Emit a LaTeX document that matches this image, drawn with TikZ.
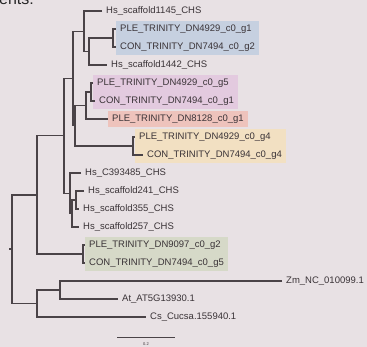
\documentclass[tikz,border=0pt]{standalone}
\usepackage{fontspec}
\setmainfont{Liberation Sans}
\usepackage{xcolor}
\usetikzlibrary{backgrounds,fit}
\definecolor{bgcol}{HTML}{E8E1E4}
\definecolor{linecol}{HTML}{4A4347}
\definecolor{txtcol}{HTML}{3A3337}
\definecolor{hlblue}{HTML}{C6D0E0}
\definecolor{hlpink}{HTML}{E3CADF}
\definecolor{hlred}{HTML}{EEC3BC}
\definecolor{hlyellow}{HTML}{F2E0C2}
\definecolor{hlgreen}{HTML}{D6D9C8}

\begin{document}
\begin{tikzpicture}[x=1pt,y=-1pt]
        \tikzset{branch/.style={draw=linecol, line width=1.1pt},
                 leaf/.style={anchor=west, inner xsep=4pt, inner ysep=3.3pt,
                   text height=7pt, text depth=2pt, text=txtcol,
                   font=\fontsize{9.5}{11}\selectfont},
                 hl/.style={inner sep=0pt, draw=none}}
        \useasboundingbox (0,0) rectangle (367,347);
        \begin{scope}[on background layer]
            \fill[bgcol] (0,0) rectangle (367,347);
        \end{scope}
        \node[anchor=base west, inner sep=0pt, text=black!85,
              font=\fontsize{16}{18}\selectfont] (cut) at (-1,4.5) {ents:};

        % leaves
        \node[leaf] (hs1145) at (102,11) {Hs\_scaffold1145\_CHS};
        \node[leaf] (pleA) at (116,29) {PLE\_TRINITY\_DN4929\_c0\_g1};
        \node[leaf] (conA) at (116,47) {CON\_TRINITY\_DN7494\_c0\_g2};
        \node[leaf] (hs1442) at (107,65) {Hs\_scaffold1442\_CHS};
        \node[leaf] (pleB) at (93,83) {PLE\_TRINITY\_DN4929\_c0\_g5};
        \node[leaf] (conB) at (95,101) {CON\_TRINITY\_DN7494\_c0\_g1};
        \node[leaf] (ple8128) at (108,119) {PLE\_TRINITY\_DN8128\_c0\_g1};
        \node[leaf] (pleC) at (135,137) {PLE\_TRINITY\_DN4929\_c0\_g4};
        \node[leaf] (conC) at (143,155) {CON\_TRINITY\_DN7494\_c0\_g4};
        \node[leaf] (hsC39) at (81,173) {Hs\_C393485\_CHS};
        \node[leaf] (hs241) at (84,191) {Hs\_scaffold241\_CHS};
        \node[leaf] (hs355) at (79,209) {Hs\_scaffold355\_CHS};
        \node[leaf] (hs257) at (79,227) {Hs\_scaffold257\_CHS};
        \node[leaf] (pleD) at (85,245) {PLE\_TRINITY\_DN9097\_c0\_g2};
        \node[leaf] (conD) at (85,263) {CON\_TRINITY\_DN7494\_c0\_g5};
        \node[leaf] (zm) at (282,281) {Zm\_NC\_010099.1};
        \node[leaf] (at) at (118,299) {At\_AT5G13930.1};
        \node[leaf] (cs) at (146,317) {Cs\_Cucsa.155940.1};

        % highlight boxes
        \begin{scope}[on background layer]
            \node[hl, fill=hlblue, fit=(pleA)(conA)] (boxA) {};
            \node[hl, fill=hlpink, fit=(pleB)(conB)] (boxB) {};
            \node[hl, fill=hlred, fit=(ple8128)] (boxR) {};
            \node[hl, fill=hlyellow, fit=(pleC)(conC)] (boxC) {};
            \node[hl, fill=hlgreen, fit=(pleD)(conD)] (boxD) {};
        \end{scope}

        % inner nodes
        \coordinate (nA) at (113,38);
        \coordinate (nB) at (89,51.5);
        \coordinate (nC) at (84,31.25);
        \coordinate (nD) at (91,92);
        \coordinate (nE) at (86,105.5);
        \coordinate (nF) at (133,146);
        \coordinate (nG) at (75,125.75);
        \coordinate (nH) at (73,78.5);
        \coordinate (nI) at (76,200);
        \coordinate (nJ) at (72,213.5);
        \coordinate (nK) at (70,193.25);
        \coordinate (nL) at (64,135.9);
        \coordinate (nM) at (83,254);
        \coordinate (nN) at (37,195);
        \coordinate (nO) at (60,290);
        \coordinate (nP) at (37,303.5);
        \coordinate (root) at (12,249);
        \coordinate (rootstub) at (9,249);

        % branches
        \draw[branch] (pleA.west) -| (nA) |- (conA.west);
        \draw[branch] (nA) -| (nB) |- (hs1442.west);
        \draw[branch] (hs1145.west) -| (nC) |- (nB);
        \draw[branch] (pleB.west) -| (nD) |- (conB.west);
        \draw[branch] (nD) -| (nE) |- (ple8128.west);
        \draw[branch] (pleC.west) -| (nF) |- (conC.west);
        \draw[branch] (nE) -| (nG) |- (nF);
        \draw[branch] (nC) -| (nH) |- (nG);
        \draw[branch] (hs241.west) -| (nI) |- (hs355.west);
        \draw[branch] (nI) -| (nJ) |- (hs257.west);
        \draw[branch] (hsC39.west) -| (nK) |- (nJ);
        \draw[branch] (nH) -| (nL) |- (nK);
        \draw[branch] (pleD.west) -| (nM) |- (conD.west);
        \draw[branch] (nL) -| (nN) |- (nM);
        \draw[branch] (zm.west) -| (nO) |- (at.west);
        \draw[branch] (nO) -| (nP) |- (cs.west);
        \draw[branch] (nN) -| (root) |- (nP);
        \draw[branch] (rootstub) -- (root);

        % scale bar
        \coordinate (sbL) at (117,337);
        \coordinate (sbR) at (175,337);
        \draw[draw=linecol, line width=0.7pt] (sbL) -- (sbR);
        \node[text=txtcol, inner sep=0pt, font=\fontsize{4}{5}\selectfont] (sbtext) at (146,344) {0.2};
\end{tikzpicture}
\end{document}
